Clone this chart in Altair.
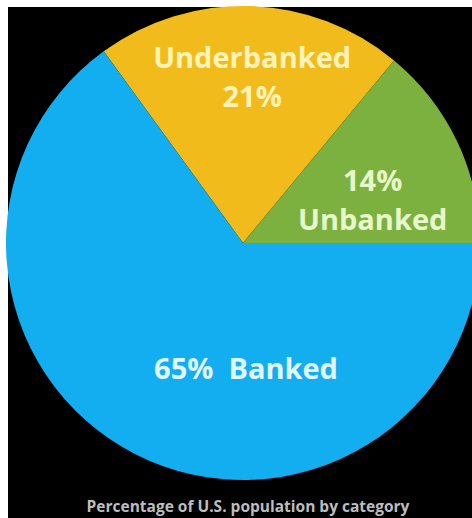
import altair as alt
import pandas as pd
import math

categories = ["Underbanked", "Unbanked", "Banked"]
shares = [21, 14, 65]
labels = ["Underbanked\n21%", "14%\nUnbanked", "65%\u00a0\u00a0Banked"]
colors = ["#F1BC1B", "#7DB13F", "#12AEEF"]
text_colors = ["#FFF3B8", "#E8F7CC", "#E3F7FF"]
caption = "Percentage of U.S. population by category"

df = pd.DataFrame({
    "category": categories,
    "share": shares,
    "label": labels,
    "idx": list(range(len(categories))),
})

start = math.radians(324)
theta_scale = alt.Scale(domain=[0, 100], range=[start, start + 2 * math.pi])

CX, CY, R = 235, 236, 237

base = (
    alt.Chart(df)
    .transform_window(cum="sum(share)", sort=[alt.SortField("idx")], frame=[None, 0])
    .transform_calculate(start="datum.cum - datum.share", mid="datum.cum - datum.share / 2")
)

arcs = base.mark_arc(outerRadius=R, stroke=None).encode(
    theta=alt.Theta("start:Q", scale=theta_scale, stack=False),
    theta2="cum:Q",
    color=alt.Color("category:N", scale=alt.Scale(domain=categories, range=colors), legend=None),
    x=alt.value(CX),
    y=alt.value(CY),
)

def label_layer(cat, radius, dx, dy, color):
    return (
        base.transform_filter(alt.datum.category == cat)
        .mark_text(
            radius=radius, dx=dx, dy=dy, font="Open Sans", fontWeight="bold",
            fontSize=29, lineBreak="\n", lineHeight=39, color=color,
            align="center", baseline="middle",
        )
        .encode(
            theta=alt.Theta("mid:Q", scale=theta_scale, stack=False),
            text="label:N",
            x=alt.value(CX),
            y=alt.value(CY),
        )
    )

t_under = label_layer("Underbanked", 164, 4, -20, text_colors[0])
t_un = label_layer("Unbanked", 140, 3, -1, text_colors[1])
t_bank = label_layer("Banked", 130, 62, 11, text_colors[2])

chart = (
    alt.layer(arcs, t_under, t_un, t_bank)
    .properties(
        width=464,
        height=511,
        autosize=alt.AutoSizeParams(type="none"),
        padding={"left": 8, "top": 7, "right": 0, "bottom": 0},
        background="white",
        title=alt.TitleParams(
            caption, orient="bottom", anchor="middle", offset=-18, dx=8,
            font="Open Sans", fontSize=15.5, fontWeight="bold", color="#BDBDBD",
            baseline="top",
        ),
    )
    .configure_view(fill="black", stroke=None)
)

chart.save("out.html", embed_options={"renderer": "svg", "actions": False})
